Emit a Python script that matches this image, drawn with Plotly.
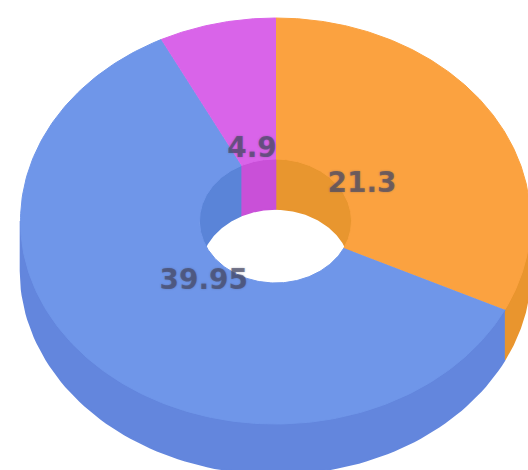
import numpy as np
import plotly.graph_objects as go

# Data
labels = ["Orange", "Blue", "Magenta"]
values = [21.3, 39.95, 4.9]
face_colors = ["#FBA240", "#6F96E9", "#D964E9"]
outer_wall_colors = ["#E9952E", "#6386DD", "#C653D6"]
inner_wall_colors = ["#E8962F", "#5A84D8", "#C950D8"]

# Geometry of the tilted ring, in page pixels
W, H = 528, 470
CX, CY = 275.5, 221
RX, RY = 255, 203
HX, HY = 76, 62
DEPTH = 50
LX, LY, LCY = 102, 78, 226


def ring(r_x, r_y, t, dy=0.0):
    return CX + r_x * np.sin(t), CY - r_y * np.cos(t) + dy


def clipped(a, b, lo, hi):
    a2, b2 = max(a, lo), min(b, hi)
    return (a2, b2) if b2 > a2 else None


def add_poly(fig, xs, ys, color, name, soft=1.6):
    fig.add_trace(go.Scatter(
        x=np.round(xs, 2), y=np.round(ys, 2), mode="lines", fill="toself",
        fillcolor=color, line=dict(color=color, width=soft),
        name=name, hoverinfo="name", showlegend=False))


def band(fig, a, b, r_x, r_y, color, name):
    t = np.linspace(a, b, 90)
    x1, y1 = ring(r_x, r_y, t)
    x2, y2 = ring(r_x, r_y, t[::-1], DEPTH)
    add_poly(fig, np.r_[x1, x2], np.r_[y1, y2], color, name)


fractions = np.array(values) / sum(values)
edges = np.r_[0, np.cumsum(fractions)] * 2 * np.pi
starts, ends = edges[:-1], edges[1:]

fig = go.Figure()

# Outer walls: only the near half of the ring faces the viewer
for a, b, c, n in zip(starts, ends, outer_wall_colors, labels):
    span = clipped(a, b, np.pi / 2, 3 * np.pi / 2)
    if span:
        band(fig, span[0], span[1], RX, RY, c, n)

# Inner walls: only the far half of the hole is visible
for a, b, c, n in zip(starts, ends, inner_wall_colors, labels):
    for lo, hi in ((0, np.pi / 2), (3 * np.pi / 2, 2 * np.pi)):
        span = clipped(a, b, lo, hi)
        if span:
            band(fig, span[0], span[1], HX, HY, c, n)

# Top faces
for a, b, c, n in zip(starts, ends, face_colors, labels):
    t = np.linspace(a, b, 200)
    x1, y1 = ring(RX, RY, t)
    x2, y2 = ring(HX, HY, t[::-1])
    add_poly(fig, np.r_[x1, x2], np.r_[y1, y2], c, n, soft=1.0)

# Value labels
mids = (starts + ends) / 2
fig.add_trace(go.Scatter(
    x=np.round(CX + LX * np.sin(mids), 1),
    y=np.round(LCY - LY * np.cos(mids), 1),
    mode="text",
    text=[str(v) for v in values],
    textposition="middle center",
    textfont=dict(family="DejaVu Sans", size=28, weight="bold",
                  color="rgba(70,72,100,0.66)",
                  shadow="0 0 2px rgba(70,72,100,0.6)"),
    hoverinfo="skip", showlegend=False))

fig.update_layout(
    width=W, height=H, margin=dict(l=0, r=0, t=0, b=0),
    paper_bgcolor="white", plot_bgcolor="white", showlegend=False,
    xaxis=dict(range=[0, W], visible=False, fixedrange=True),
    yaxis=dict(range=[H, 0], visible=False, fixedrange=True),
)
fig.write_html("out.html", config={"displayModeBar": False},
               post_script="document.body.style.margin='0';document.body.style.overflow='hidden';")
